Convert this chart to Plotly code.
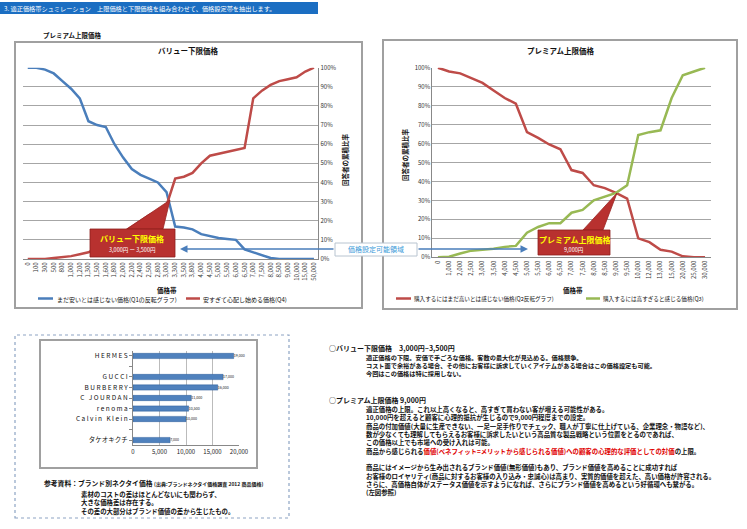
import plotly.graph_objects as go

W, H = 747, 529
def px(x): return x / W
def py(y): return 1 - y / H

# ---------------- data ----------------
left_prices = ["0", "100", "300", "500", "800", "1,000", "1,200", "1,300", "1,500", "1,600",
               "1,800", "2,000", "2,200", "2,400", "2,500", "2,800", "3,000", "3,300", "3,500",
               "3,800", "4,000", "4,500", "5,000", "5,500", "6,000", "6,500", "7,000", "7,500",
               "8,000", "8,500", "9,000", "10,000", "15,000", "50,000"]
q1_reversed = [100, 100, 99, 97, 93, 89, 84, 72, 70, 69, 60, 53, 47, 44, 42, 40, 35, 17,
               16.5, 15.5, 13, 12, 11, 10.5, 10, 5, 3.5, 2, 0.5, 0, 0, 0, 0, 0]
q4 = [0, 0, 0, 0.5, 1, 1.5, 2.5, 3.5, 6, 8, 11, 14, 17, 20, 23, 25, 28, 42, 43, 45, 50,
      54, 55, 56, 57, 58, 84, 88, 91, 93, 94, 95, 98, 100]

right_prices = ["0", "1,000", "2,000", "2,500", "3,000", "3,500", "4,000", "4,500", "5,000",
                "5,500", "6,000", "6,500", "7,000", "7,500", "8,000", "8,500", "9,000", "9,500",
                "10,000", "12,000", "13,000", "15,000", "20,000", "25,000", "30,000"]
q2_reversed = [100, 98, 97, 94.5, 92, 88, 84, 81, 66, 63, 59.5, 57, 46, 44.5, 38, 36.5, 34,
               31, 10, 8, 4, 3, 0.5, 0, 0]
q3 = [0, 0.3, 2, 3.5, 4, 4.5, 5.5, 6, 13, 16, 18, 18, 23.5, 25, 30, 32, 34, 38, 64.5, 66,
      67, 84, 96, 98, 100]

brands = ["HERMES", "", "GUCCI", "BURBERRY", "C JOURDAN", "renoma", "Calvin Klein", " ", "タケオキクチ"]
tie_prices = [19000, None, 17000, 16000, 11000, 10500, 10000, None, 7000]

name_q1 = "まだ安いとは感じない価格(Q1の反転グラフ)"
name_q4 = "安すぎて心配し始める価格(Q4)"
name_q2 = "購入するにはまだ高いとは感じない価格(Q2反転グラフ)"
name_q3 = "購入するには高すぎると感じる価格(Q3)"

FONT = "Noto Sans CJK JP"
BLUE, RED, GREEN = "#4a7ebb", "#be4b48", "#98b954"
GRID = "#a6a6a6"

fig = go.Figure()

fig.add_trace(go.Scatter(x=left_prices, y=q1_reversed, mode="lines", xaxis="x", yaxis="y",
                         line=dict(color=BLUE, width=2.5), name=name_q1, showlegend=False))
fig.add_trace(go.Scatter(x=left_prices, y=q4, mode="lines", xaxis="x", yaxis="y",
                         line=dict(color=RED, width=2.5), name=name_q4, showlegend=False))
fig.add_trace(go.Scatter(x=right_prices, y=q2_reversed, mode="lines", xaxis="x2", yaxis="y2",
                         line=dict(color=RED, width=2.5), name=name_q2, showlegend=False))
fig.add_trace(go.Scatter(x=right_prices, y=q3, mode="lines", xaxis="x2", yaxis="y2",
                         line=dict(color=GREEN, width=2.5), name=name_q3, showlegend=False))

def spaced(s):
    if s.strip() and s.isascii():
        return " ".join(s)
    return s

fig.add_trace(go.Bar(y=brands, x=tie_prices, orientation="h", xaxis="x3", yaxis="y3",
                     marker=dict(color="#4f81bd", line=dict(color="#2f5f9a", width=0.5)),
                     width=0.5, text=[f"{v:,}" if v else "" for v in tie_prices],
                     textposition="outside", cliponaxis=False,
                     textfont=dict(size=5.5, color="#222"), showlegend=False))

tickfont = dict(size=6, color="#333", family=FONT)
fig.update_layout(
    width=W, height=H, margin=dict(l=0, r=0, t=0, b=0),
    paper_bgcolor="white", plot_bgcolor="rgba(0,0,0,0)",
    font=dict(family=FONT, size=7, color="#111"), showlegend=False,
    xaxis=dict(domain=[px(23.4), px(318.3)], anchor="y", type="category", automargin=False,
               range=[-0.5, len(left_prices) - 0.5], tickangle=-90, tickfont=tickfont,
               showline=True, linecolor="#888", ticks="", showgrid=False),
    yaxis=dict(domain=[py(259), py(67.7)], anchor="x", side="right", range=[0, 100],
               automargin=False, dtick=10, ticksuffix="%", tickfont=tickfont, showline=True,
               linecolor="#888", gridcolor=GRID, zeroline=False),
    xaxis2=dict(domain=[px(432.4), px(710.6)], anchor="y2", type="category", automargin=False,
                range=[-0.5, len(right_prices) - 0.5], tickangle=-90, tickfont=tickfont,
                showline=True, linecolor="#888", ticks="", showgrid=False),
    yaxis2=dict(domain=[py(257.3), py(67.7)], anchor="x2", range=[0, 100], dtick=10,
                automargin=False, ticksuffix="%", tickfont=tickfont, showline=True,
                linecolor="#888", gridcolor=GRID, zeroline=False),
    xaxis3=dict(domain=[px(133), px(239)], anchor="y3", range=[0, 20000], dtick=5000,
                automargin=False, tickformat=",", tickfont=dict(size=6, color="#222"),
                showline=True, linecolor="#888", gridcolor="#bbbbbb", zeroline=False),
    yaxis3=dict(domain=[py(445.3), py(350.7)], anchor="x3", type="category", automargin=False,
                categoryarray=brands, autorange="reversed",
                tickvals=brands, ticktext=[spaced(b) for b in brands],
                tickfont=dict(size=6.5, color="#111"), showline=True, linecolor="#888",
                ticks="outside", ticklen=3, tickcolor="#888", showgrid=False),
    bargap=0.5,
)

shapes = []
def rect(x0, y0, x1, y1, **kw):
    shapes.append(dict(type="rect", xref="paper", yref="paper",
                       x0=px(x0), x1=px(x1), y0=py(y1), y1=py(y0), **kw))

def hline(x0, x1, y, color, width=2.5):
    shapes.append(dict(type="line", xref="paper", yref="paper", x0=px(x0), x1=px(x1),
                       y0=py(y), y1=py(y), line=dict(color=color, width=width)))

def path(points, **kw):
    d = "M " + " L ".join(f"{px(a):.5f},{py(b):.5f}" for a, b in points) + " Z"
    shapes.append(dict(type="path", xref="paper", yref="paper", path=d, **kw))

# header bar
rect(0, 2, 318, 14, fillcolor="#1b6ec2", line=dict(width=0), layer="below")
# chart boxes
rect(15, 42, 362, 308, line=dict(color="#a0a0a0", width=2), layer="below")
rect(383, 40, 737, 309, line=dict(color="#a0a0a0", width=2), layer="below")
# bottom-left dashed box and bar chart frame
rect(15, 335, 289, 518, line=dict(color="#8da4c4", width=1.2, dash="dot"), layer="below")
rect(40, 340, 257, 468, line=dict(color="#a0a0a0", width=2), layer="below")
# callouts
path([(127, 229), (163, 229), (170, 200)], fillcolor="#b8312f", line=dict(color="#9a2523", width=0.8))
rect(90, 229, 175, 257, fillcolor="#b8312f", line=dict(color="#8e1f1d", width=0.8))
path([(583, 230), (603, 230), (617, 193)], fillcolor="#b8312f", line=dict(color="#9a2523", width=0.8))
rect(538, 230, 610, 255, fillcolor="#b8312f", line=dict(color="#8e1f1d", width=0.8))
# price-range box
rect(335, 243, 417, 256, fillcolor="white", line=dict(color="#b8c4d0", width=1))
# legend samples
hline(38, 53, 298.5, BLUE)
hline(186, 200, 298.5, RED)
hline(396, 411, 298.5, RED)
hline(586, 600, 298.5, GREEN)
fig.update_layout(shapes=shapes)

anns = []
def ann(x, y, text, size=7, color="#111", xanchor="left", yanchor="middle", **kw):
    anns.append(dict(x=px(x), y=py(y), xref="paper", yref="paper", text=text,
                     showarrow=False, xanchor=xanchor, yanchor=yanchor, borderpad=0,
                     font=dict(size=size, color=color, family=FONT), **kw))

ann(3, 8, "3. 適正価格帯シュミレーション　上限価格と下限価格を組み合わせて、価格設定帯を抽出します。", 6.2, "white")
ann(42, 35, "<b>プレミアム上限価格</b>", 6.5)
ann(188, 50, "<b>バリュー下限価格</b>", 7.5, xanchor="center")
ann(560, 50, "<b>プレミアム上限価格</b>", 7.5, xanchor="center")
ann(345, 160, "<b>回答者の累積比率</b>", 6.5, xanchor="center", textangle=-90)
ann(405, 155, "<b>回答者の累積比率</b>", 6.5, xanchor="center", textangle=-90)
ann(167, 289.5, "<b>価格帯</b>", 6.5, xanchor="center")
ann(573, 289.5, "<b>価格帯</b>", 6.5, xanchor="center")
ann(56, 299, name_q1, 6)
ann(202, 299, name_q4, 6)
ann(413, 299, name_q2, 5.6)
ann(602, 299, name_q3, 5.6)
ann(132, 238, "<b>バリュー下限価格</b>", 8, "#ffff00", xanchor="center")
ann(132, 250, "3,000円 ー 3,500円", 5.5, "white", xanchor="center")
ann(574, 239, "<b>プレミアム上限価格</b>", 8, "#ffff00", xanchor="center")
ann(574, 250, "9,000円", 5.5, "white", xanchor="center")
ann(376, 249.5, "価格設定可能領域", 7, "#3a9ad9", xanchor="center")
# arrows
anns.append(dict(x=px(180), y=py(249), xref="paper", yref="paper", ax=155, ay=0,
                 axref="pixel", ayref="pixel", showarrow=True, arrowhead=2, arrowsize=1,
                 arrowwidth=1.5, arrowcolor=BLUE, text=""))
anns.append(dict(x=px(528), y=py(249), xref="paper", yref="paper", ax=-111, ay=0,
                 axref="pixel", ayref="pixel", showarrow=True, arrowhead=2, arrowsize=1,
                 arrowwidth=1.5, arrowcolor=BLUE, text=""))

# bottom-left notes
ann(43, 482.5, "<b>参考資料：ブランド別ネクタイ価格</b> <span style='font-size:5px'><b>(出典:ブランドネクタイ価格調査 2012 商品価格)</b></span>", 6.8)
ann(80, 488.5, "<b>素材のコストの差はほとんどないにも関わらず、<br>大きな価格差は存在する。<br>その差の大部分はブランド価値の差から生じたもの。</b>", 6.4,
    yanchor="top", align="left")

# right-hand notes
X1, X2 = 328, 365
ann(X1, 348, "<b>○バリュー下限価格　3,000円~3,500円</b>", 7)
ann(X2, 352, "<b>適正価格の下限。安価で手ごろな価格。客数の最大化が見込める。価格競争。<br>"
             "コスト面で余裕がある場合、その他にお客様に訴求していくアイテムがある場合はこの価格設定も可能。<br>"
             "今回はこの価格は特に採用しない。</b>", 6.2, yanchor="top", align="left")
ann(X1, 400, "<b>○プレミアム上限価格 9,000円</b>", 7)
ann(X2, 403.5, "<b>適正価格の上限。これ以上高くなると、高すぎて買わない客が増える可能性がある。<br>"
               "10,000円を超えると顧客に心理的抵抗が生じるので9,000円程度までの設定。<br>"
               "商品の付加価値(大量に生産できない、一足一足手作りでチェック、職人が丁寧に仕上げている、企業理念・物語など)、<br>"
               "数が少なくても理解してもらえるお客様に訴求したいという高品質な製品戦略という位置をとるのであれば、<br>"
               "この価格以上でも市場への受け入れは可能。<br>"
               "商品から感じられる<span style='color:#e00000'>価値(ベネフィット=メリットから感じられる価値)への顧客の心理的な評価としての対価</span>の上限。<br>"
               " <br>"
               "商品にはイメージから生み出されるブランド価値(無形価値)もあり、ブランド価値を高めることに成功すれば<br>"
               "お客様のロイヤリティ(商品に対するお客様の入り込み・忠誠心)は高まり、実質的価値を超えた、高い価格が許容される。<br>"
               "さらに、高価格自体がステータス価値を示すようになれば、さらにブランド価値を高めるという好循環へも繋がる。<br>"
               "(左図参照)</b>", 6.4, yanchor="top", align="left")

fig.update_layout(annotations=anns)
fig.write_html("out.html", config={"displayModeBar": False},
               post_script="document.body.style.margin='0';document.body.style.overflow='hidden';")
